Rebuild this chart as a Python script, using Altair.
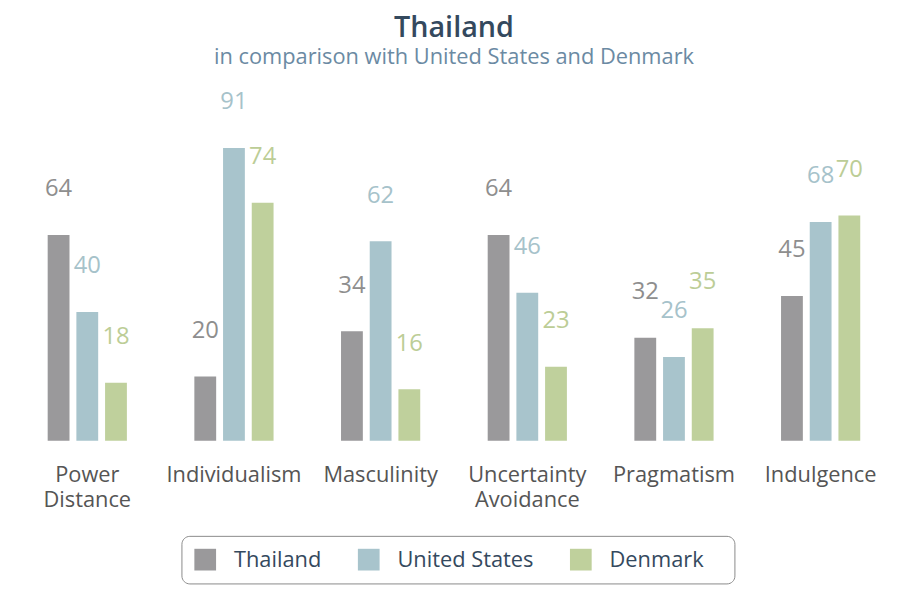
import altair as alt
import pandas as pd

dimensions = ["Power Distance", "Individualism", "Masculinity",
              "Uncertainty Avoidance", "Pragmatism", "Indulgence"]
countries = ["Thailand", "United States", "Denmark"]
thailand = [64, 20, 34, 64, 32, 45]
united_states = [40, 91, 62, 46, 26, 68]
denmark = [18, 74, 16, 23, 35, 70]
colors = ["#9a999b", "#a8c4cc", "#bfd09c"]
label_colors = ["#8e8e8e", "#a6c2ca", "#bccd96"]

rows = []
for series_name, vals in zip(countries, [thailand, united_states, denmark]):
    for d, v in zip(dimensions, vals):
        rows.append({"Dimension": d, "Country": series_name, "Score": v})
df = pd.DataFrame(rows)

FONT = "Open Sans"

x = alt.X("Dimension:N", sort=dimensions, title=None,
          scale=alt.Scale(paddingInner=0.46, paddingOuter=0.2165),
          axis=alt.Axis(labelAngle=0, domain=False, ticks=False, grid=False, labelFontSize=22,
                        labelColor="#555555", labelFont=FONT, labelPadding=24,
                        labelLineHeight=25, labelBaseline="top",
                        labelExpr="datum.label == 'Power Distance' || datum.label == 'Uncertainty Avoidance' ? split(datum.label, ' ') : datum.label"))
xo = alt.XOffset("Country:N", sort=countries,
                 scale=alt.Scale(paddingInner=0.24, paddingOuter=0))
y = alt.Y("Score:Q", scale=alt.Scale(domain=[0, 110]), axis=None)
color = alt.Color("Country:N", sort=countries,
                  scale=alt.Scale(domain=countries, range=colors),
                  legend=alt.Legend(title=None, orient="none", direction="horizontal",
                                    legendX=167, legendY=453,
                                    labelFontSize=22, labelFont=FONT, labelColor="#34495e",
                                    labelExpr="datum.label == 'Denmark' ? 'Denmark\u00a0\u00a0\u00a0\u200b' : datum.label",
                                    symbolType="square", symbolSize=480, symbolStrokeWidth=0,
                                    symbolOpacity=1,
                                    strokeColor="#8a8a8a", cornerRadius=8, padding=13,
                                    labelOffset=18, columnPadding=36,
                                    fillColor="#ffffff"))

bars = alt.Chart(df).mark_bar().encode(x=x, xOffset=xo, y=y, color=color)
labels = alt.Chart(df).mark_text(fontSize=24, font=FONT, baseline="alphabetic", dy=-39).encode(
    x=x, xOffset=xo, y=y, text="Score:Q", color=alt.Color("Country:N", sort=countries,
                  scale=alt.Scale(domain=countries, range=label_colors), legend=None))

chart = alt.layer(bars, labels).resolve_scale(color="independent").properties(
    width=884, height=357,
    padding={"left": 8, "right": 0, "top": 4, "bottom": 4},
    title=alt.TitleParams(text="Thailand", subtitle="in comparison with United States and Denmark",
                          anchor="middle", fontSize=29, font=FONT, color="#34495e", fontWeight=600,
                          subtitleFontSize=22, subtitleFont=FONT, subtitleColor="#6b8aa3",
                          subtitlePadding=4, offset=19)
).configure_view(stroke="transparent", strokeWidth=0)

chart.save("out.html", embed_options={"renderer": "svg", "actions": False})
